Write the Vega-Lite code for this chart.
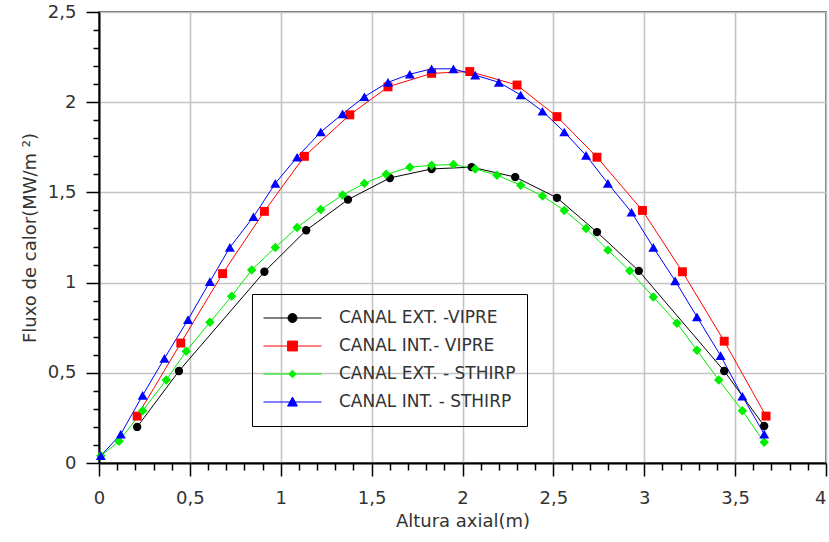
{
  "$schema": "https://vega.github.io/schema/vega-lite/v6.json",
  "width": 727,
  "height": 451,
  "autosize": {"type": "none"},
  "padding": {"left": 99, "top": 12, "right": 3, "bottom": 79},
  "background": "white",
  "config": {
    "view": {"stroke": "#3a3a3a", "strokeWidth": 1.5},
    "font": "DejaVu Sans",
    "axis": {
      "labelFont": "DejaVu Sans",
      "labelFontSize": 18,
      "labelColor": "#333333",
      "titleFont": "DejaVu Sans",
      "titleFontSize": 18,
      "titleFontWeight": "normal",
      "titleColor": "#333333",
      "domainColor": "#000000",
      "domainWidth": 2,
      "tickColor": "#000000",
      "tickWidth": 1.5,
      "gridColor": "#c4c4c4",
      "gridWidth": 1.6,
      "labelOverlap": false,
      "labelFlush": false
    },
    "legend": {
      "orient": "none",
      "legendX": 153,
      "legendY": 282,
      "padding": 11,
      "strokeColor": "#000000",
      "symbolSize": 3364,
      "symbolStrokeWidth": 1,
      "clipHeight": 26,
      "rowPadding": 2,
      "labelOffset": 17,
      "labelFont": "DejaVu Sans",
      "labelFontSize": 17,
      "labelColor": "#333333",
      "labelLimit": 0
    }
  },
  "datasets": {
    "fluxo": [
      {"serie": "CANAL EXT. -VIPRE", "x": 0.21, "y": 0.2},
      {"serie": "CANAL EXT. -VIPRE", "x": 0.44, "y": 0.51},
      {"serie": "CANAL EXT. -VIPRE", "x": 0.91, "y": 1.06},
      {"serie": "CANAL EXT. -VIPRE", "x": 1.14, "y": 1.29},
      {"serie": "CANAL EXT. -VIPRE", "x": 1.37, "y": 1.46},
      {"serie": "CANAL EXT. -VIPRE", "x": 1.6, "y": 1.58},
      {"serie": "CANAL EXT. -VIPRE", "x": 1.83, "y": 1.63},
      {"serie": "CANAL EXT. -VIPRE", "x": 2.05, "y": 1.64},
      {"serie": "CANAL EXT. -VIPRE", "x": 2.29, "y": 1.585},
      {"serie": "CANAL EXT. -VIPRE", "x": 2.52, "y": 1.47},
      {"serie": "CANAL EXT. -VIPRE", "x": 2.74, "y": 1.28},
      {"serie": "CANAL EXT. -VIPRE", "x": 2.97, "y": 1.065},
      {"serie": "CANAL EXT. -VIPRE", "x": 3.44, "y": 0.51},
      {"serie": "CANAL EXT. -VIPRE", "x": 3.66, "y": 0.205},

      {"serie": "CANAL INT.- VIPRE", "x": 0.21, "y": 0.26},
      {"serie": "CANAL INT.- VIPRE", "x": 0.45, "y": 0.665},
      {"serie": "CANAL INT.- VIPRE", "x": 0.68, "y": 1.05},
      {"serie": "CANAL INT.- VIPRE", "x": 0.91, "y": 1.395},
      {"serie": "CANAL INT.- VIPRE", "x": 1.13, "y": 1.7},
      {"serie": "CANAL INT.- VIPRE", "x": 1.38, "y": 1.93},
      {"serie": "CANAL INT.- VIPRE", "x": 1.59, "y": 2.085},
      {"serie": "CANAL INT.- VIPRE", "x": 1.83, "y": 2.16},
      {"serie": "CANAL INT.- VIPRE", "x": 2.04, "y": 2.17},
      {"serie": "CANAL INT.- VIPRE", "x": 2.3, "y": 2.095},
      {"serie": "CANAL INT.- VIPRE", "x": 2.52, "y": 1.92},
      {"serie": "CANAL INT.- VIPRE", "x": 2.74, "y": 1.695},
      {"serie": "CANAL INT.- VIPRE", "x": 2.99, "y": 1.4},
      {"serie": "CANAL INT.- VIPRE", "x": 3.21, "y": 1.06},
      {"serie": "CANAL INT.- VIPRE", "x": 3.44, "y": 0.675},
      {"serie": "CANAL INT.- VIPRE", "x": 3.67, "y": 0.26},

      {"serie": "CANAL EXT. - STHIRP", "x": 0.01, "y": 0.04},
      {"serie": "CANAL EXT. - STHIRP", "x": 0.11, "y": 0.12},
      {"serie": "CANAL EXT. - STHIRP", "x": 0.24, "y": 0.29},
      {"serie": "CANAL EXT. - STHIRP", "x": 0.37, "y": 0.46},
      {"serie": "CANAL EXT. - STHIRP", "x": 0.48, "y": 0.62},
      {"serie": "CANAL EXT. - STHIRP", "x": 0.61, "y": 0.78},
      {"serie": "CANAL EXT. - STHIRP", "x": 0.73, "y": 0.925},
      {"serie": "CANAL EXT. - STHIRP", "x": 0.84, "y": 1.07},
      {"serie": "CANAL EXT. - STHIRP", "x": 0.97, "y": 1.195},
      {"serie": "CANAL EXT. - STHIRP", "x": 1.09, "y": 1.305},
      {"serie": "CANAL EXT. - STHIRP", "x": 1.22, "y": 1.405},
      {"serie": "CANAL EXT. - STHIRP", "x": 1.34, "y": 1.485},
      {"serie": "CANAL EXT. - STHIRP", "x": 1.46, "y": 1.55},
      {"serie": "CANAL EXT. - STHIRP", "x": 1.58, "y": 1.6},
      {"serie": "CANAL EXT. - STHIRP", "x": 1.71, "y": 1.64},
      {"serie": "CANAL EXT. - STHIRP", "x": 1.83, "y": 1.65},
      {"serie": "CANAL EXT. - STHIRP", "x": 1.95, "y": 1.655},
      {"serie": "CANAL EXT. - STHIRP", "x": 2.07, "y": 1.63},
      {"serie": "CANAL EXT. - STHIRP", "x": 2.19, "y": 1.595},
      {"serie": "CANAL EXT. - STHIRP", "x": 2.32, "y": 1.54},
      {"serie": "CANAL EXT. - STHIRP", "x": 2.44, "y": 1.48},
      {"serie": "CANAL EXT. - STHIRP", "x": 2.56, "y": 1.4},
      {"serie": "CANAL EXT. - STHIRP", "x": 2.68, "y": 1.3},
      {"serie": "CANAL EXT. - STHIRP", "x": 2.8, "y": 1.18},
      {"serie": "CANAL EXT. - STHIRP", "x": 2.92, "y": 1.065},
      {"serie": "CANAL EXT. - STHIRP", "x": 3.05, "y": 0.92},
      {"serie": "CANAL EXT. - STHIRP", "x": 3.18, "y": 0.775},
      {"serie": "CANAL EXT. - STHIRP", "x": 3.29, "y": 0.625},
      {"serie": "CANAL EXT. - STHIRP", "x": 3.41, "y": 0.46},
      {"serie": "CANAL EXT. - STHIRP", "x": 3.54, "y": 0.29},
      {"serie": "CANAL EXT. - STHIRP", "x": 3.66, "y": 0.115},

      {"serie": "CANAL INT. - STHIRP", "x": 0.01, "y": 0.04},
      {"serie": "CANAL INT. - STHIRP", "x": 0.12, "y": 0.16},
      {"serie": "CANAL INT. - STHIRP", "x": 0.24, "y": 0.375},
      {"serie": "CANAL INT. - STHIRP", "x": 0.36, "y": 0.58},
      {"serie": "CANAL INT. - STHIRP", "x": 0.49, "y": 0.795},
      {"serie": "CANAL INT. - STHIRP", "x": 0.61, "y": 1.005},
      {"serie": "CANAL INT. - STHIRP", "x": 0.72, "y": 1.195},
      {"serie": "CANAL INT. - STHIRP", "x": 0.85, "y": 1.365},
      {"serie": "CANAL INT. - STHIRP", "x": 0.97, "y": 1.55},
      {"serie": "CANAL INT. - STHIRP", "x": 1.09, "y": 1.695},
      {"serie": "CANAL INT. - STHIRP", "x": 1.22, "y": 1.835},
      {"serie": "CANAL INT. - STHIRP", "x": 1.34, "y": 1.935},
      {"serie": "CANAL INT. - STHIRP", "x": 1.46, "y": 2.03},
      {"serie": "CANAL INT. - STHIRP", "x": 1.59, "y": 2.11},
      {"serie": "CANAL INT. - STHIRP", "x": 1.71, "y": 2.155},
      {"serie": "CANAL INT. - STHIRP", "x": 1.83, "y": 2.185},
      {"serie": "CANAL INT. - STHIRP", "x": 1.95, "y": 2.185},
      {"serie": "CANAL INT. - STHIRP", "x": 2.07, "y": 2.15},
      {"serie": "CANAL INT. - STHIRP", "x": 2.2, "y": 2.11},
      {"serie": "CANAL INT. - STHIRP", "x": 2.32, "y": 2.04},
      {"serie": "CANAL INT. - STHIRP", "x": 2.44, "y": 1.95},
      {"serie": "CANAL INT. - STHIRP", "x": 2.56, "y": 1.835},
      {"serie": "CANAL INT. - STHIRP", "x": 2.68, "y": 1.705},
      {"serie": "CANAL INT. - STHIRP", "x": 2.8, "y": 1.55},
      {"serie": "CANAL INT. - STHIRP", "x": 2.93, "y": 1.39},
      {"serie": "CANAL INT. - STHIRP", "x": 3.05, "y": 1.195},
      {"serie": "CANAL INT. - STHIRP", "x": 3.17, "y": 1.01},
      {"serie": "CANAL INT. - STHIRP", "x": 3.29, "y": 0.81},
      {"serie": "CANAL INT. - STHIRP", "x": 3.42, "y": 0.595},
      {"serie": "CANAL INT. - STHIRP", "x": 3.54, "y": 0.37},
      {"serie": "CANAL INT. - STHIRP", "x": 3.66, "y": 0.16}
    ]
  },
  "encoding": {
    "x": {
      "field": "x",
      "type": "quantitative",
      "title": "Altura axial(m)",
      "scale": {"domain": [0, 4], "nice": false, "zero": false},
      "axis": {
        "values": [0, 0.1, 0.2, 0.3, 0.4, 0.5, 0.6, 0.7, 0.8, 0.9, 1, 1.1, 1.2, 1.3, 1.4, 1.5, 1.6, 1.7, 1.8, 1.9, 2, 2.1, 2.2, 2.3, 2.4, 2.5, 2.6, 2.7, 2.8, 2.9, 3, 3.1, 3.2, 3.3, 3.4, 3.5, 3.6, 3.7, 3.8, 3.9, 4],
        "format": "~g",
        "labelExpr": "abs(datum.value * 2 - round(datum.value * 2)) < 0.001 ? replace(datum.label, '.', ',') : ''",
        "labelAlign": {"condition": {"test": "datum.value > 3.95", "value": "right"}, "value": "center"},
        "tickSize": {"condition": {"test": "abs(datum.value * 2 - round(datum.value * 2)) < 0.001", "value": 13}, "value": 7},
        "gridOpacity": {"condition": {"test": "abs(datum.value * 2 - round(datum.value * 2)) < 0.001", "value": 1}, "value": 0},
        "labelPadding": 13,
        "titlePadding": 5
      }
    },
    "y": {
      "field": "y",
      "type": "quantitative",
      "title": "Fluxo de calor(MW/m ²)",
      "scale": {"domain": [0, 2.5], "nice": false, "zero": false},
      "axis": {
        "values": [0, 0.1, 0.2, 0.3, 0.4, 0.5, 0.6, 0.7, 0.8, 0.9, 1, 1.1, 1.2, 1.3, 1.4, 1.5, 1.6, 1.7, 1.8, 1.9, 2, 2.1, 2.2, 2.3, 2.4, 2.5],
        "format": "~g",
        "labelExpr": "abs(datum.value * 2 - round(datum.value * 2)) < 0.001 ? replace(datum.label, '.', ',') : ''",
        "tickSize": {"condition": {"test": "abs(datum.value * 2 - round(datum.value * 2)) < 0.001", "value": 13}, "value": 6},
        "gridOpacity": {"condition": {"test": "abs(datum.value * 2 - round(datum.value * 2)) < 0.001", "value": 1}, "value": 0},
        "labelPadding": 10,
        "titlePadding": 8
      }
    }
  },
  "layer": [
    {
      "data": {"name": "fluxo"},
      "mark": {"type": "line", "strokeWidth": 1},
      "encoding": {
        "color": {
          "field": "serie",
          "type": "nominal",
          "scale": {
            "domain": ["CANAL EXT. -VIPRE", "CANAL INT.- VIPRE", "CANAL EXT. - STHIRP", "CANAL INT. - STHIRP"],
            "range": ["#000000", "#ff0000", "#00ee00", "#0000ff"]
          },
          "legend": null
        }
      }
    },
    {
      "data": {"name": "fluxo"},
      "mark": {"type": "point", "filled": true, "opacity": 1, "strokeWidth": 0},
      "encoding": {
        "color": {
          "field": "serie",
          "type": "nominal",
          "scale": {
            "domain": ["CANAL EXT. -VIPRE", "CANAL INT.- VIPRE", "CANAL EXT. - STHIRP", "CANAL INT. - STHIRP"],
            "range": ["#000000", "#ff0000", "#00ee00", "#0000ff"]
          },
          "legend": null
        },
        "shape": {
          "field": "serie",
          "type": "nominal",
          "scale": {
            "domain": ["CANAL EXT. -VIPRE", "CANAL INT.- VIPRE", "CANAL EXT. - STHIRP", "CANAL INT. - STHIRP"],
            "range": ["circle", "square", "diamond", "triangle-up"]
          },
          "legend": null
        },
        "size": {
          "field": "serie",
          "type": "nominal",
          "scale": {
            "domain": ["CANAL EXT. -VIPRE", "CANAL INT.- VIPRE", "CANAL EXT. - STHIRP", "CANAL INT. - STHIRP"],
            "range": [70, 100, 50, 90]
          },
          "legend": null
        }
      }
    },
    {
      "data": {"values": []},
      "mark": {"type": "point", "filled": true, "opacity": 1, "strokeWidth": 1},
      "encoding": {
        "color": {
          "field": "serie",
          "type": "nominal",
          "scale": {
            "domain": ["CANAL EXT. -VIPRE", "CANAL INT.- VIPRE", "CANAL EXT. - STHIRP", "CANAL INT. - STHIRP"],
            "range": ["#000000", "#ff0000", "#00ee00", "#0000ff"]
          },
          "legend": {
            "title": null,
            "encode": {"legend": {"update": {"strokeWidth": {"value": 1.5}}}}
          }
        },
        "stroke": {
          "field": "serie",
          "type": "nominal",
          "scale": {
            "domain": ["CANAL EXT. -VIPRE", "CANAL INT.- VIPRE", "CANAL EXT. - STHIRP", "CANAL INT. - STHIRP"],
            "range": ["#000000", "#ff0000", "#00ee00", "#0000ff"]
          },
          "legend": {
            "title": null,
            "encode": {"legend": {"update": {"strokeWidth": {"value": 1.5}}}}
          }
        },
        "shape": {
          "field": "serie",
          "type": "nominal",
          "scale": {
            "domain": ["CANAL EXT. -VIPRE", "CANAL INT.- VIPRE", "CANAL EXT. - STHIRP", "CANAL INT. - STHIRP"],
            "range": [
              "M-1,0H1M0.155,0A0.155,0.155,0,1,1,-0.155,0A0.155,0.155,0,1,1,0.155,0Z",
              "M-1,0H1M-0.17,-0.17H0.17V0.17H-0.17Z",
              "M-1,0H1M0,-0.13L0.13,0L0,0.13L-0.13,0Z",
              "M-1,0H1M0,-0.17L0.17,0.14H-0.17Z"
            ]
          },
          "legend": {
            "title": null,
            "encode": {"legend": {"update": {"strokeWidth": {"value": 1.5}}}}
          }
        }
      }
    }
  ],
  "resolve": {
    "scale": {"color": "independent", "shape": "independent", "size": "independent", "stroke": "independent"}
  }
}
